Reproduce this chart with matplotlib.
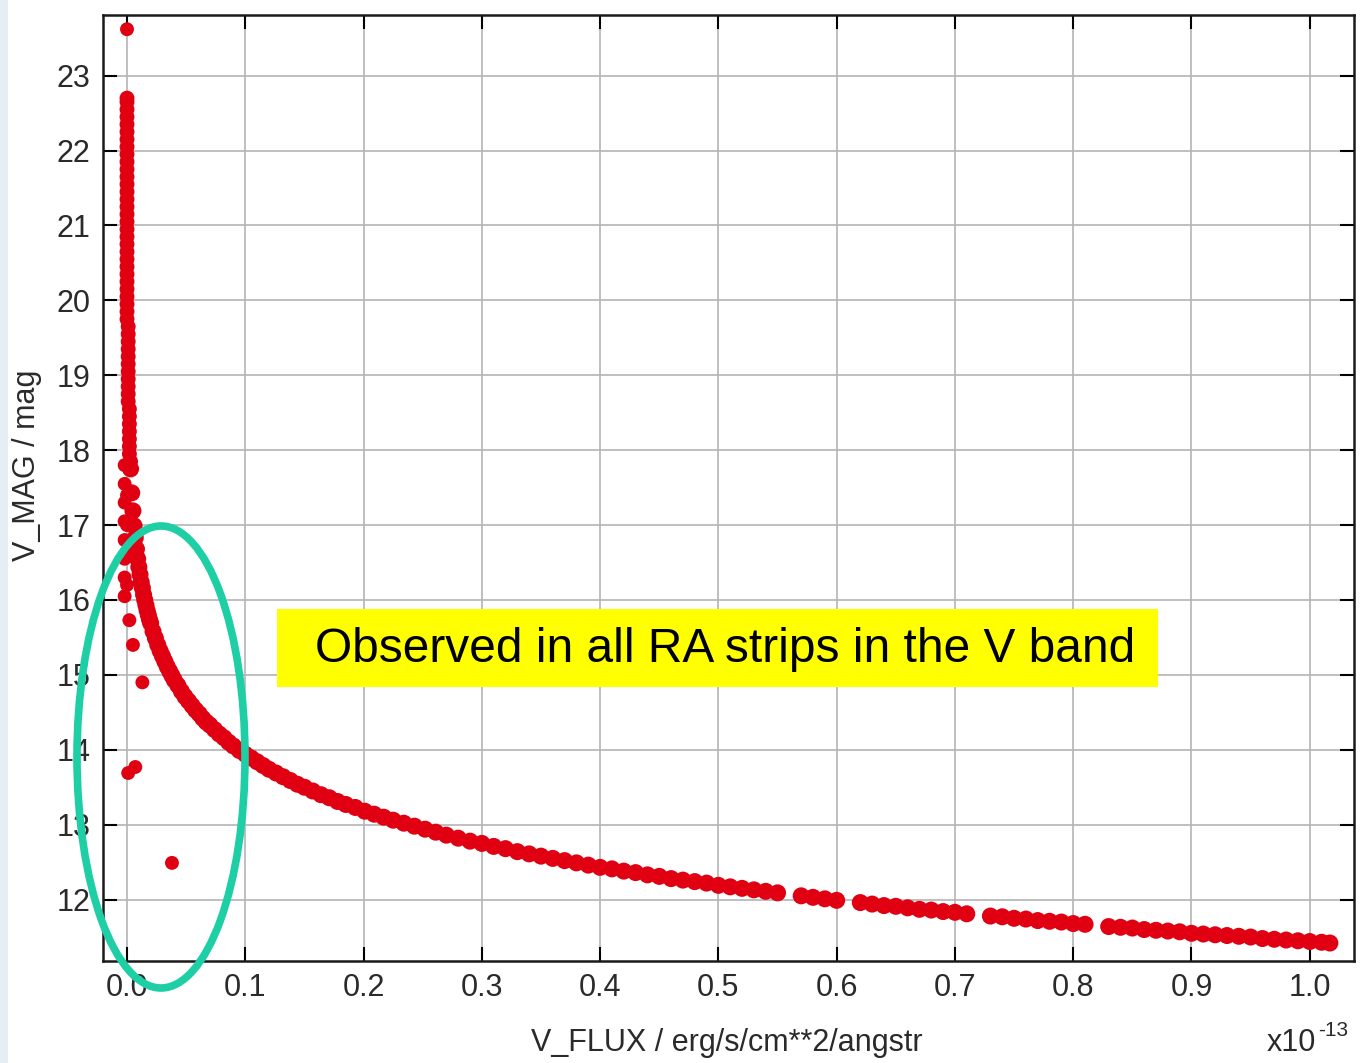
import matplotlib
matplotlib.use("Agg")
import matplotlib.pyplot as plt
from matplotlib.patches import Ellipse, Rectangle

plt.rcParams['font.family'] = ['Liberation Sans', 'DejaVu Sans']

# flux in units of 1e-13 erg/s/cm**2/angstr, magnitudes
# near-zero flux column (faint sources)
col_flux = [0.000, 0.000, 0.000, 0.000, 0.000, 0.000, 0.000, 0.000, 0.000, 0.000,
            0.000, 0.000, 0.000, 0.000, 0.000, 0.000, 0.000, 0.000, 0.000, 0.000,
            0.000, 0.000, 0.000, 0.000, 0.000, 0.000, 0.000, 0.000, 0.000, 0.000,
            0.000, 0.001, 0.001, 0.001, 0.001, 0.001, 0.001, 0.001, 0.001, 0.001,
            0.001, 0.001, 0.002, 0.002, 0.002, 0.002, 0.002, 0.002, 0.002, 0.003]
col_mag = [22.70, 22.65, 22.55, 22.45, 22.35, 22.25, 22.15, 22.05, 21.95, 21.85,
           21.75, 21.65, 21.55, 21.45, 21.35, 21.25, 21.15, 21.05, 20.95, 20.85,
           20.75, 20.65, 20.55, 20.45, 20.35, 20.25, 20.15, 20.05, 19.95, 19.85,
           19.75, 19.65, 19.55, 19.45, 19.35, 19.25, 19.15, 19.05, 18.95, 18.85,
           18.75, 18.65, 18.55, 18.45, 18.35, 18.25, 18.15, 18.05, 17.95, 17.85]

# main flux-magnitude sequence
seq_flux = [0.003, 0.004, 0.005, 0.006, 0.007, 0.008, 0.009, 0.010, 0.011, 0.012,
            0.013, 0.014, 0.015, 0.016, 0.017, 0.018, 0.019, 0.020, 0.022, 0.024,
            0.026, 0.028, 0.030, 0.032, 0.034, 0.036, 0.038, 0.040, 0.043, 0.046,
            0.049, 0.052, 0.055, 0.058, 0.061, 0.064, 0.067, 0.070, 0.074, 0.078,
            0.082, 0.086, 0.090, 0.095, 0.100, 0.105, 0.110, 0.115, 0.120, 0.126,
            0.132, 0.138, 0.144, 0.150, 0.157, 0.164, 0.171, 0.178, 0.185, 0.193,
            0.201, 0.209, 0.217, 0.225, 0.234, 0.243, 0.252, 0.261, 0.270, 0.280,
            0.290, 0.300, 0.310, 0.320, 0.330, 0.340, 0.350, 0.360, 0.370, 0.380,
            0.390, 0.400, 0.410, 0.420, 0.430, 0.440, 0.450, 0.460, 0.470, 0.480,
            0.490, 0.500, 0.510, 0.520, 0.530, 0.540, 0.550, 0.570, 0.580, 0.590,
            0.600, 0.620, 0.630, 0.640, 0.650, 0.660, 0.670, 0.680, 0.690, 0.700,
            0.710, 0.730, 0.740, 0.750, 0.760, 0.770, 0.780, 0.790, 0.800, 0.810,
            0.830, 0.840, 0.850, 0.860, 0.870, 0.880, 0.890, 0.900, 0.910, 0.920,
            0.930, 0.940, 0.950, 0.960, 0.970, 0.980, 0.990, 1.000, 1.010, 1.017]
seq_mag = [17.75, 17.43, 17.19, 16.99, 16.83, 16.68, 16.55, 16.44, 16.34, 16.24,
           16.16, 16.07, 16.00, 15.93, 15.86, 15.80, 15.74, 15.69, 15.58, 15.49,
           15.40, 15.32, 15.25, 15.18, 15.11, 15.05, 14.99, 14.93, 14.86, 14.78,
           14.71, 14.65, 14.59, 14.53, 14.48, 14.42, 14.37, 14.33, 14.27, 14.21,
           14.16, 14.10, 14.05, 13.99, 13.94, 13.89, 13.84, 13.79, 13.74, 13.69,
           13.64, 13.59, 13.54, 13.50, 13.45, 13.40, 13.36, 13.31, 13.27, 13.23,
           13.18, 13.14, 13.10, 13.06, 13.02, 12.98, 12.94, 12.90, 12.86, 12.82,
           12.78, 12.75, 12.71, 12.68, 12.64, 12.61, 12.58, 12.55, 12.52, 12.49,
           12.46, 12.43, 12.41, 12.38, 12.36, 12.33, 12.31, 12.28, 12.26, 12.24,
           12.22, 12.19, 12.17, 12.15, 12.13, 12.11, 12.09, 12.05, 12.03, 12.01,
           11.99, 11.96, 11.94, 11.92, 11.91, 11.89, 11.87, 11.86, 11.84, 11.83,
           11.81, 11.78, 11.77, 11.75, 11.74, 11.72, 11.71, 11.70, 11.68, 11.67,
           11.64, 11.63, 11.62, 11.60, 11.59, 11.58, 11.57, 11.55, 11.54, 11.53,
           11.52, 11.51, 11.50, 11.48, 11.47, 11.46, 11.45, 11.44, 11.43, 11.42]

# scattered points off the sequence (left of it, at low flux)
odd_flux = [0.000, -0.002, -0.002, -0.002, -0.002, -0.002, -0.002, -0.002, -0.002,
            0.000, 0.000, 0.000, 0.000, 0.002, 0.005, 0.013, 0.001, 0.007, 0.038]
odd_mag = [23.62, 16.05, 16.30, 16.55, 16.80, 17.05, 17.30, 17.55, 17.80,
           16.20, 16.60, 17.00, 17.40, 15.73, 15.40, 14.90, 13.69, 13.77, 12.49]

xticks = [0.0, 0.1, 0.2, 0.3, 0.4, 0.5, 0.6, 0.7, 0.8, 0.9, 1.0]
yticks = [12, 13, 14, 15, 16, 17, 18, 19, 20, 21, 22, 23]

W, H = 1369, 1063
fig = plt.figure(figsize=(W / 100, H / 100), dpi=100)
fig.patch.set_facecolor('white')

# slide background strip on the left
fig.add_artist(Rectangle((0, 0), 8 / W, 1, transform=fig.transFigure,
                         facecolor='#e6eef5', edgecolor='none', zorder=0))

ax = fig.add_axes([103 / W, 1 - 961 / H, (1354 - 103) / W, (961 - 15) / H])
ax.set_xlim(-0.0203, 1.0374)
ax.set_ylim(11.18, 23.81)

red = '#e00012'
ax.scatter(col_flux, col_mag, s=115, color=red, edgecolors='none', zorder=3)
ax.scatter(seq_flux, seq_mag, s=150, color=red, edgecolors='none', zorder=3)
ax.scatter(odd_flux, odd_mag, s=100, color=red, edgecolors='none', zorder=3)

ax.set_xticks(xticks)
ax.set_xticklabels(['%.1f' % t for t in xticks])
ax.set_yticks(yticks)
ax.set_yticklabels([str(t) for t in yticks])
ax.grid(True, color='#b4b4b4', linewidth=1.2, zorder=1)
ax.set_axisbelow(True)
ax.tick_params(direction='in', length=10, width=1.5, top=True, right=True,
               labelsize=22, labelcolor='#2a2a2a', pad=9)
for sp in ax.spines.values():
    sp.set_linewidth(1.8)
    sp.set_color('#1a1a1a')

fig.text(727 / W, 1 - 1043 / H, 'V_FLUX / erg/s/cm**2/angstr', fontsize=22,
         color='#2a2a2a', ha='center', va='center')
fig.text(27 / W, 1 - 465 / H, 'V_MAG / mag', fontsize=22, color='#2a2a2a',
         rotation=90, ha='center', va='center')
fig.text(1267 / W, 1 - 1043 / H, 'x10', fontsize=22, color='#2a2a2a',
         ha='left', va='center')
fig.text(1318 / W, 1 - 1030 / H, '-13', fontsize=15, color='#2a2a2a',
         ha='left', va='center')

# annotation box
fig.add_artist(Rectangle((277 / W, 1 - 687 / H), (1158 - 277) / W, (687 - 609) / H,
                         transform=fig.transFigure, facecolor='#ffff00',
                         edgecolor='none', zorder=5))
fig.text(725 / W, 1 - 650 / H, 'Observed in all RA strips in the V band',
         fontsize=34.5, color='black', ha='center', va='center', zorder=6)

# highlight ellipse
fig.add_artist(Ellipse((161 / W, 1 - 757 / H), 168 / W, 462 / H,
                       transform=fig.transFigure, facecolor='none',
                       edgecolor='#1ecfa6', linewidth=5.5, zorder=7))

fig.savefig('out.png', dpi=100)
